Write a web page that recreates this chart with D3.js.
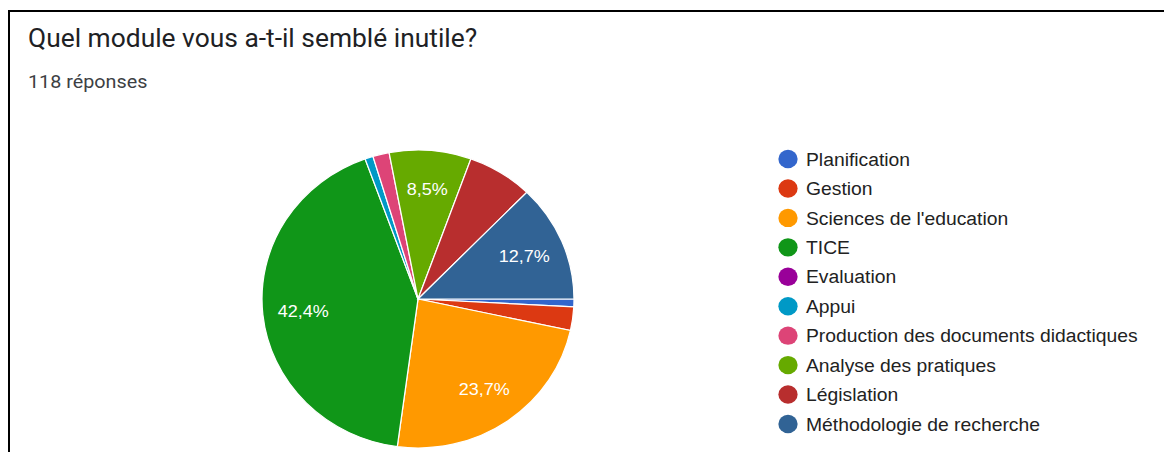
<!DOCTYPE html>
<html><head><meta charset="utf-8">
<script src="https://cdn.jsdelivr.net/npm/d3@7"></script>
<style>
html,body{margin:0;padding:0;background:#fff;}
svg{display:block;}
</style></head>
<body>
<svg id="chart" width="1164" height="452"></svg>
<script>
const categories = ["Planification","Gestion","Sciences de l'education","TICE","Evaluation","Appui","Production des documents didactiques","Analyse des pratiques","Législation","Méthodologie de recherche"];
const counts = [1, 3, 28, 50, 0, 1, 2, 10, 8, 15];
const colors = ["#3366cc","#dc3912","#ff9900","#109618","#990099","#0099c6","#dd4477","#66aa00","#b82e2e","#316395"];
const title = "Quel module vous a-t-il semblé inutile?";
const subtitle = "118 réponses";

const SX = 1.047; // the reference image is slightly stretched horizontally
const svg = d3.select("#chart");
// frame
svg.append("line").attr("x1",8).attr("x2",1164).attr("y1",11).attr("y2",11).attr("stroke","#000").attr("stroke-width",2);
svg.append("line").attr("x1",9).attr("x2",9).attr("y1",10).attr("y2",452).attr("stroke","#000").attr("stroke-width",2);

svg.append("text").attr("transform",`translate(28,47) scale(${SX},1)`).text(title)
  .attr("font-family","Roboto").attr("font-size",25.2).attr("fill","#202124");
svg.append("text").attr("transform",`translate(28,88) scale(${SX},1)`).text(subtitle)
  .attr("font-family","Roboto").attr("font-size",18.9).attr("fill","#3c4043");

const total = d3.sum(counts);
const data = categories.map((c,i)=>({name:c, value:counts[i], color:colors[i]}));
const pie = d3.pie().value(d=>d.value).sort(null)
  .startAngle(Math.PI/2).endAngle(Math.PI/2 + 2*Math.PI);
const cx = 418, cy = 299, R = 149;
const arc = d3.arc().innerRadius(0).outerRadius(R);
const labelArc = d3.arc().innerRadius(R*0.74).outerRadius(R*0.74);
const g = svg.append("g").attr("transform",`translate(${cx},${cy}) scale(${SX},1)`);
const arcs = pie(data).filter(d=>d.data.value>0);
g.selectAll("path").data(arcs).join("path")
  .attr("d",arc).attr("fill",d=>d.data.color)
  .attr("stroke","#fff").attr("stroke-width",1.2);
const fmt = v => (v*100).toFixed(1).replace(".",",") + "%";
g.selectAll("text.lbl").data(arcs.filter(d=>d.data.value/total>=0.08)).join("text")
  .attr("class","lbl")
  .attr("transform",d=>`translate(${labelArc.centroid(d)})`)
  .attr("text-anchor","middle").attr("dy","0.36em")
  .attr("font-family","Liberation Sans, Arial").attr("font-size",17.2).attr("fill","#fff")
  .text(d=>fmt(d.data.value/total));

// legend
const ly = d3.scalePoint().domain(categories).range([159,424]);
const lg = svg.append("g");
const items = lg.selectAll("g").data(data).join("g")
  .attr("transform",d=>`translate(788,${ly(d.name)}) scale(${SX},1)`);
items.append("circle").attr("r",9.2).attr("fill",d=>d.color);
items.append("text").attr("x",18/SX).attr("dy","0.36em")
  .attr("font-family","Liberation Sans, Arial").attr("font-size",18.45).attr("fill","#222")
  .text(d=>d.name);
</script>
</body></html>
